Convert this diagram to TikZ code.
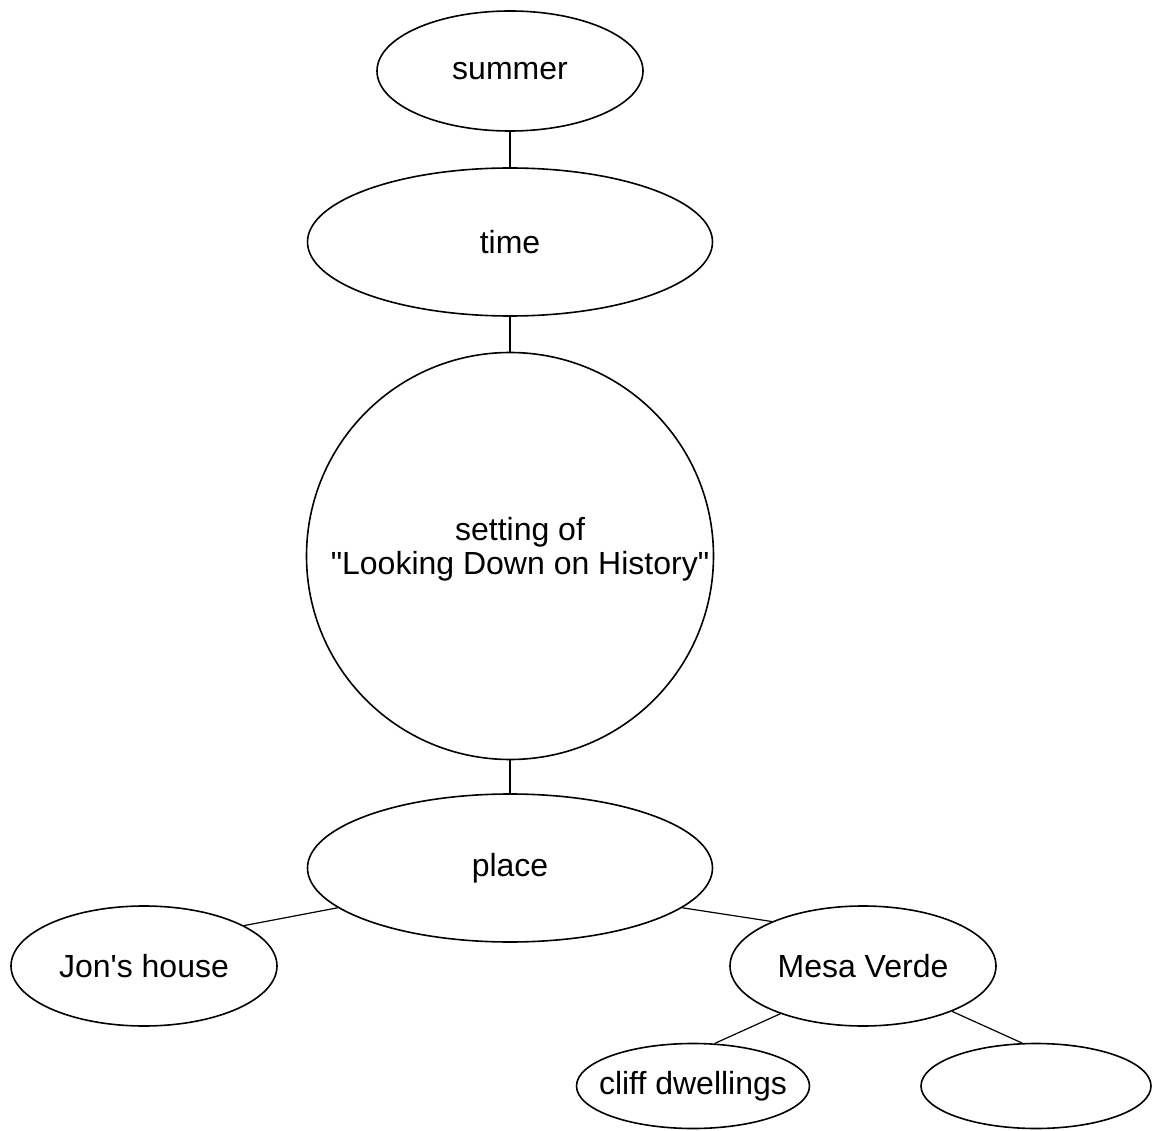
\documentclass[tikz,border=0pt]{standalone}
\usepackage{fontspec}
\setmainfont{Liberation Sans}
\usetikzlibrary{shapes.geometric}
\begin{document}
\begin{tikzpicture}[x=1pt,y=-1pt]
\tikzstyle{bubble}=[ellipse, draw, line width=1.6pt, inner sep=0pt, font=\fontsize{32}{34}\selectfont]
\tikzstyle{small}=[bubble, minimum width=266pt, minimum height=120pt]
\tikzstyle{big}=[bubble, minimum width=405pt, minimum height=148pt]
\useasboundingbox (0,0) rectangle (1152,1131);

\node[small] (summer) at (510,71) {summer};
\node[big] (time) at (510,242) {time};
\node[circle, draw, line width=1.6pt, inner sep=0pt, minimum size=407pt, align=center,
  text depth=20pt, font=\fontsize{32}{34}\selectfont] (setting) at (510,556)
  {\hspace*{20pt}setting of\\ \hspace*{20pt}\textquotedbl Looking Down on History\textquotedbl};
\node[big] (place) at (510,868) {place};
\node[small] (jon) at (144,966) {Jon\textquotesingle s house};
\node[small] (mesa) at (863,966) {Mesa Verde};
\node[bubble, inner xsep=-14pt, minimum width=233pt, minimum height=85pt] (cliff) at (693,1086) {cliff dwellings};
\node[bubble, minimum width=230pt, minimum height=85pt] (blank) at (1036,1086) {};

\path[line width=1.2pt]
(summer) edge (time)
(time) edge (setting)
(setting) edge (place)
(place.193) edge (jon.22)
(place.347) edge (mesa.154)
(mesa.210) edge (cliff.63)
(mesa.333) edge (blank.108);
\end{tikzpicture}
\end{document}
